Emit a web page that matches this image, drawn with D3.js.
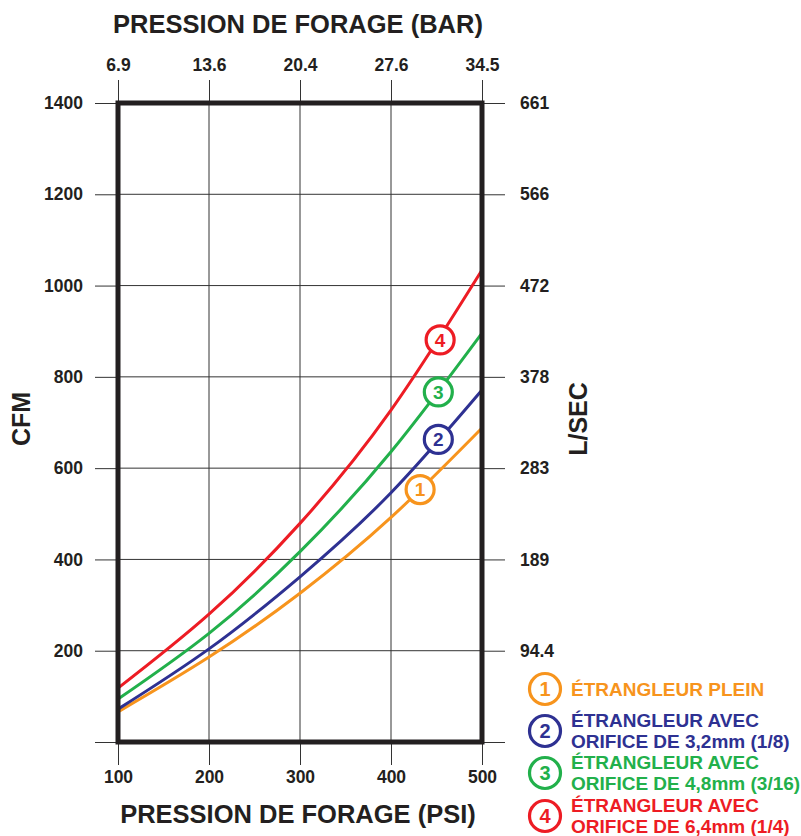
<!DOCTYPE html>
<html>
<head>
<meta charset="utf-8">
<script src="https://cdn.jsdelivr.net/npm/d3@7"></script>
<style>
  body { margin: 0; background: #fff; }
  svg { font-family: "Liberation Sans", Arial, sans-serif; font-weight: bold; }
</style>
</head>
<body>
<svg width="801" height="836"></svg>
<script>
// pressure (psi) and flow (cfm)
var psiTicks = [100, 200, 300, 400, 500];
var barLabels = ["6.9", "13.6", "20.4", "27.6", "34.5"];
var cfmTicks = [0, 200, 400, 600, 800, 1000, 1200, 1400];
var lsecLabels = ["", "94.4", "189", "283", "378", "472", "566", "661"];

var psi = [100, 200, 300, 400, 500];
var plein = [66, 186, 326, 492, 688];
var orifice32 = [72, 204, 362, 546, 771];
var orifice48 = [94, 238, 417, 636, 896];
var orifice64 = [118, 280, 479, 727, 1034];

var seriesNums = ["1", "2", "3", "4"];
var seriesColors = ["#f7941d", "#2e3192", "#22b04b", "#ed1c24"];
var markerPsi = [432, 452, 452, 454];
var markerCfm = [553, 663, 767, 881];
var legendLines = [
  ["ÉTRANGLEUR PLEIN"],
  ["ÉTRANGLEUR AVEC", "ORIFICE DE 3,2mm (1/8)"],
  ["ÉTRANGLEUR AVEC", "ORIFICE DE 4,8mm (3/16)"],
  ["ÉTRANGLEUR AVEC", "ORIFICE DE 6,4mm (1/4)"]
];

var series = [plein, orifice32, orifice48, orifice64];

var svg = d3.select("svg");
var ink = "#231f20";

var x = d3.scaleLinear().domain([100, 500]).range([118, 482]);
var y = d3.scaleLinear().domain([0, 1400]).range([742, 103]);

// grid inside the box
svg.append("g").selectAll("line.h")
  .data(cfmTicks)
  .enter().append("line")
  .attr("x1", x(100)).attr("x2", x(500))
  .attr("y1", function(d) { return y(d); })
  .attr("y2", function(d) { return y(d); })
  .style("stroke", "#333").style("stroke-width", 1);

svg.append("g").selectAll("line.v")
  .data(psiTicks)
  .enter().append("line")
  .attr("y1", y(0)).attr("y2", y(1400))
  .attr("x1", function(d) { return x(d); })
  .attr("x2", function(d) { return x(d); })
  .style("stroke", "#333").style("stroke-width", 1);

function styleAxis(g) {
  g.select(".domain").remove();
  g.selectAll(".tick line").style("stroke", "#333").style("stroke-width", 1);
  g.selectAll(".tick text")
    .style("font-size", "17.5px")
    .style("font-weight", "bold")
    .style("font-family", "'Liberation Sans', Arial, sans-serif")
    .style("fill", ink);
}

svg.append("g")
  .attr("transform", "translate(" + x(100) + ",0)")
  .call(d3.axisLeft(y).tickValues(cfmTicks).tickSize(23).tickPadding(12)
    .tickFormat(function(d) { return d === 0 ? "" : d; }))
  .call(styleAxis);

svg.append("g")
  .attr("transform", "translate(" + x(500) + ",0)")
  .call(d3.axisRight(y).tickValues(cfmTicks).tickSize(23).tickPadding(15)
    .tickFormat(function(d, i) { return lsecLabels[i]; }))
  .call(styleAxis);

svg.append("g")
  .attr("transform", "translate(0," + y(0) + ")")
  .call(d3.axisBottom(x).tickValues(psiTicks).tickSize(23).tickPadding(6))
  .call(styleAxis);

svg.append("g")
  .attr("transform", "translate(0," + y(1400) + ")")
  .call(d3.axisTop(x).tickValues(psiTicks).tickSize(23).tickPadding(9)
    .tickFormat(function(d, i) { return barLabels[i]; }))
  .call(styleAxis);

// curves
var line = d3.line()
  .x(function(d, i) { return x(psi[i]); })
  .y(function(d) { return y(d); })
  .curve(d3.curveNatural);

svg.append("g").selectAll("path")
  .data(series)
  .enter().append("path")
  .attr("d", line)
  .style("fill", "none")
  .style("stroke", function(d, i) { return seriesColors[i]; })
  .style("stroke-width", 3);

// frame
svg.append("rect")
  .attr("x", x(100)).attr("y", y(1400))
  .attr("width", x(500) - x(100)).attr("height", y(0) - y(1400))
  .style("fill", "none").style("stroke", ink).style("stroke-width", 5);

// numbered markers on curves
var marks = svg.append("g").selectAll("g")
  .data(seriesNums)
  .enter().append("g")
  .attr("transform", function(d, i) {
    return "translate(" + x(markerPsi[i]) + "," + y(markerCfm[i]) + ")";
  });
marks.append("circle").attr("r", 14)
  .style("fill", "#fff")
  .style("stroke", function(d, i) { return seriesColors[i]; })
  .style("stroke-width", 3.2);
marks.append("text").text(function(d) { return d; })
  .attr("text-anchor", "middle").attr("dy", "0.36em")
  .style("font-size", "19px")
  .style("fill", function(d, i) { return seriesColors[i]; });

// titles
svg.append("text").attr("x", 298).attr("y", 33)
  .attr("text-anchor", "middle").style("font-size", "25.5px").style("fill", ink)
  .text("PRESSION DE FORAGE (BAR)");
svg.append("text").attr("x", 298).attr("y", 823)
  .attr("text-anchor", "middle").style("font-size", "25.5px").style("fill", ink)
  .text("PRESSION DE FORAGE (PSI)");
svg.append("text").attr("transform", "translate(30,419) rotate(-90)")
  .attr("text-anchor", "middle").style("font-size", "25px").style("fill", ink)
  .text("CFM");
svg.append("text").attr("transform", "translate(587,419) rotate(-90)")
  .attr("text-anchor", "middle").style("font-size", "25px").style("fill", ink)
  .text("L/SEC");

// legend
var legendY = [689, 731, 773, 816];
var legend = svg.append("g").selectAll("g")
  .data(seriesNums)
  .enter().append("g")
  .attr("transform", function(d, i) { return "translate(0," + legendY[i] + ")"; });
legend.append("circle").attr("cx", 545).attr("r", 15.5)
  .style("fill", "#fff")
  .style("stroke", function(d, i) { return seriesColors[i]; })
  .style("stroke-width", 3.2);
legend.append("text").attr("x", 545).attr("dy", "0.36em")
  .attr("text-anchor", "middle").style("font-size", "20px")
  .style("fill", function(d, i) { return seriesColors[i]; })
  .text(function(d) { return d; });
legend.each(function(d, i) {
  var g = d3.select(this);
  var lines = legendLines[i];
  lines.forEach(function(t, j) {
    var off = lines.length === 1 ? 7 : (j === 0 ? -4 : 17);
    g.append("text").attr("x", 571).attr("y", off)
      .style("font-size", "19px")
      .style("fill", seriesColors[i])
      .text(t);
  });
});
</script>
</body>
</html>
